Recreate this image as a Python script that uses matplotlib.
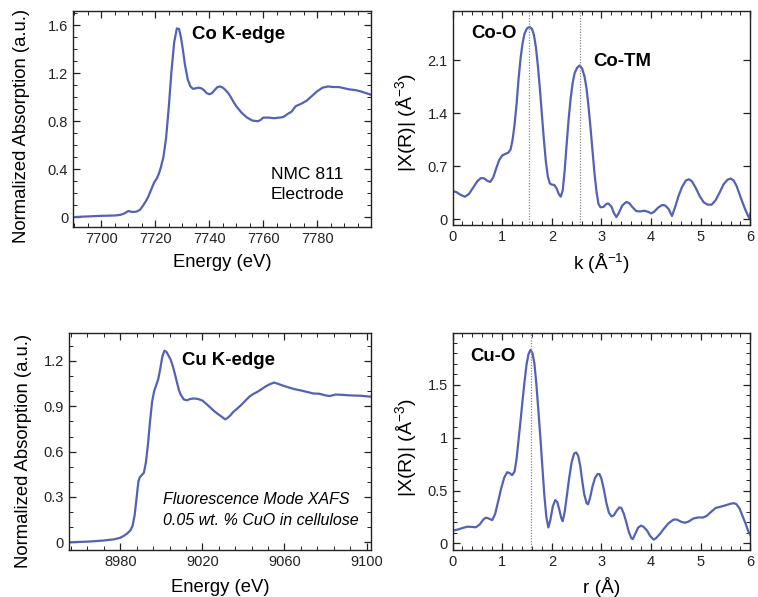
import matplotlib
matplotlib.use("Agg")
import matplotlib.pyplot as plt
from matplotlib.ticker import AutoMinorLocator, MultipleLocator, FuncFormatter, NullLocator

plt.rcParams['font.family'] = ['Liberation Sans', 'DejaVu Sans']
plt.rcParams['mathtext.fontset'] = 'custom'
plt.rcParams['mathtext.rm'] = 'Liberation Sans'
plt.rcParams['mathtext.it'] = 'Liberation Sans:italic'

LINE = '#5561b4'

# ---- Co K-edge XANES ----
co_e = [7690, 7695, 7700, 7705, 7707, 7708.5, 7710, 7711.5, 7713, 7714.3, 7715.3, 7716.3,
        7717.2, 7718.4, 7719.6, 7720.5, 7721.3, 7722, 7723, 7724, 7725, 7726, 7727, 7728,
        7728.8, 7729.5, 7730.2, 7731, 7732, 7733, 7734, 7735, 7736, 7737, 7738, 7739, 7740,
        7741, 7742, 7743, 7744, 7745, 7746, 7747, 7748, 7749, 7750, 7752, 7754, 7756, 7758,
        7759, 7760, 7762, 7764, 7766, 7767.5, 7769, 7770.5, 7772, 7774, 7776, 7778, 7780,
        7782, 7784, 7786, 7788, 7790, 7792, 7794, 7796, 7798, 7800]
co_mu = [0.0, 0.005, 0.01, 0.013, 0.018, 0.03, 0.05, 0.042, 0.045, 0.06, 0.09, 0.125,
         0.16, 0.225, 0.29, 0.32, 0.36, 0.41, 0.50, 0.66, 0.92, 1.22, 1.46, 1.575,
         1.57, 1.50, 1.40, 1.27, 1.15, 1.09, 1.07, 1.075, 1.08, 1.075, 1.06, 1.035, 1.025,
         1.035, 1.06, 1.085, 1.09, 1.08, 1.06, 1.035, 1.0, 0.96, 0.925, 0.87, 0.83, 0.805, 0.80,
         0.81, 0.83, 0.83, 0.825, 0.83, 0.835, 0.86, 0.88, 0.925, 0.945, 0.97, 1.01, 1.05,
         1.08, 1.09, 1.085, 1.085, 1.075, 1.065, 1.06, 1.05, 1.035, 1.02]

# ---- Co FT-EXAFS ----
co_k = [0, 0.08, 0.16, 0.25, 0.33, 0.42, 0.5, 0.57, 0.63, 0.7, 0.76, 0.82, 0.88, 0.94, 1.0,
        1.06, 1.12, 1.17, 1.21, 1.25, 1.29, 1.33, 1.37, 1.41, 1.45, 1.5, 1.55, 1.6, 1.64,
        1.68, 1.72, 1.76, 1.8, 1.84, 1.88, 1.92, 1.96, 2.0, 2.05, 2.1, 2.14, 2.18, 2.22, 2.26,
        2.3, 2.34, 2.38, 2.42, 2.46, 2.51, 2.56, 2.61, 2.66, 2.7, 2.74, 2.78, 2.82, 2.86, 2.9,
        2.94, 2.98, 3.04, 3.1, 3.14, 3.2, 3.25, 3.3, 3.35, 3.42, 3.5, 3.56, 3.62, 3.7, 3.78,
        3.86, 3.94, 4.0, 4.06, 4.14, 4.22, 4.28, 4.35, 4.42, 4.48, 4.55, 4.62, 4.7, 4.76,
        4.82, 4.9, 4.98, 5.06, 5.14, 5.22, 5.3, 5.38, 5.46, 5.54, 5.6, 5.66, 5.72, 5.78, 5.84,
        5.9, 5.96, 5.98, 6.0]
co_chi = [0.37, 0.355, 0.32, 0.295, 0.33, 0.42, 0.50, 0.54, 0.54, 0.505, 0.49, 0.55, 0.67,
          0.78, 0.84, 0.86, 0.875, 0.92, 1.05, 1.25, 1.52, 1.85, 2.12, 2.32, 2.45, 2.52, 2.54,
          2.515, 2.43, 2.27, 2.02, 1.72, 1.38, 1.05, 0.76, 0.56, 0.47, 0.455, 0.45, 0.40, 0.33,
          0.295, 0.38, 0.65, 1.0, 1.33, 1.6, 1.8, 1.93, 2.0, 2.03, 1.99, 1.88, 1.72, 1.48,
          1.2, 0.9, 0.6, 0.36, 0.2, 0.155, 0.16, 0.2, 0.205, 0.165, 0.08, 0.025, 0.08, 0.18,
          0.225, 0.21, 0.16, 0.105, 0.1, 0.11, 0.095, 0.075, 0.095, 0.15, 0.185, 0.18, 0.135,
          0.04, 0.15, 0.3, 0.42, 0.51, 0.525, 0.5, 0.41, 0.3, 0.22, 0.19, 0.19, 0.25, 0.35,
          0.46, 0.52, 0.535, 0.51, 0.44, 0.33, 0.22, 0.12, 0.03, 0.01, 0.075]

# ---- Cu K-edge XANES ----
cu_e = [8955, 8965, 8972, 8977, 8980, 8982, 8983.5, 8985, 8986, 8987, 8988, 8988.8, 8989.5,
        8990.5, 8991.5, 8992.5, 8993.5, 8994.5, 8995.5, 8996.5, 8997.5, 8998.5, 8999.5,
        9000.5, 9001.5, 9002.5, 9003.5, 9004.5, 9005.5, 9006.5, 9007.5, 9008.5, 9009.5, 9011,
        9012.5, 9014, 9016, 9018, 9020, 9022, 9024, 9026, 9028, 9030, 9031, 9032, 9033.5,
        9035, 9037, 9039, 9041, 9043, 9045, 9047, 9049, 9051, 9053, 9055, 9057, 9059, 9062,
        9065, 9068, 9071, 9074, 9077, 9080, 9082, 9085, 9088, 9091, 9094, 9097, 9100, 9102]
cu_mu = [0.0, 0.005, 0.012, 0.02, 0.03, 0.045, 0.06, 0.08, 0.11, 0.18, 0.30, 0.40, 0.43,
         0.445, 0.46, 0.53, 0.65, 0.80, 0.93, 1.0, 1.04, 1.08, 1.15, 1.23, 1.268, 1.26,
         1.235, 1.21, 1.17, 1.12, 1.065, 1.01, 0.975, 0.945, 0.94, 0.948, 0.952, 0.948, 0.938,
         0.915, 0.89, 0.865, 0.845, 0.825, 0.814, 0.82, 0.838, 0.862, 0.885, 0.91, 0.938,
         0.965, 0.983, 0.997, 1.015, 1.033, 1.047, 1.057, 1.048, 1.038, 1.025, 1.013, 1.005,
         0.995, 0.985, 0.983, 0.972, 0.968, 0.978, 0.976, 0.973, 0.971, 0.97, 0.966, 0.964]

# ---- Cu FT-EXAFS ----
cu_r = [0, 0.1, 0.2, 0.3, 0.4, 0.47, 0.55, 0.62, 0.67, 0.73, 0.8, 0.86, 0.92, 0.98, 1.04,
        1.1, 1.15, 1.2, 1.25, 1.29, 1.33, 1.37, 1.41, 1.45, 1.49, 1.53, 1.57, 1.61, 1.65,
        1.69, 1.73, 1.77, 1.81, 1.85, 1.89, 1.93, 1.97, 2.02, 2.07, 2.11, 2.15, 2.19, 2.22,
        2.26, 2.3, 2.35, 2.4, 2.45, 2.49, 2.53, 2.57, 2.61, 2.65, 2.7, 2.73, 2.77, 2.82, 2.87,
        2.92, 2.96, 3.0, 3.05, 3.1, 3.15, 3.2, 3.25, 3.3, 3.36, 3.4, 3.45, 3.5, 3.55, 3.6,
        3.63, 3.68, 3.74, 3.8, 3.85, 3.92, 3.98, 4.05, 4.1, 4.18, 4.26, 4.35, 4.45, 4.52, 4.6,
        4.68, 4.75, 4.85, 4.95, 5.05, 5.12, 5.2, 5.3, 5.4, 5.5, 5.6, 5.67, 5.72, 5.78, 5.84,
        5.9, 5.96, 6.0]
cu_chi = [0.12, 0.13, 0.145, 0.158, 0.155, 0.152, 0.18, 0.225, 0.243, 0.235, 0.22, 0.28,
          0.40, 0.52, 0.62, 0.673, 0.665, 0.645, 0.68, 0.80, 0.98, 1.16, 1.35, 1.53, 1.69,
          1.79, 1.83, 1.80, 1.70, 1.50, 1.25, 1.0, 0.72, 0.45, 0.25, 0.15, 0.22, 0.35, 0.41,
          0.39, 0.32, 0.24, 0.21, 0.30, 0.44, 0.62, 0.77, 0.85, 0.86, 0.83, 0.74, 0.60, 0.47,
          0.38, 0.37, 0.43, 0.54, 0.62, 0.655, 0.655, 0.61, 0.505, 0.38, 0.29, 0.255, 0.265,
          0.305, 0.34, 0.335, 0.28, 0.2, 0.11, 0.05, 0.04, 0.09, 0.15, 0.168, 0.155, 0.12,
          0.07, 0.035, 0.05, 0.09, 0.14, 0.19, 0.225, 0.225, 0.205, 0.195, 0.205, 0.235,
          0.245, 0.245, 0.26, 0.295, 0.335, 0.347, 0.36, 0.375, 0.38, 0.37, 0.33, 0.26, 0.19,
          0.11, 0.08]

co_lines = [1.55, 2.57]
cu_lines = [1.58]
cu_xticks = [8980, 9020, 9060, 9100]

fig = plt.figure(figsize=(7.58, 5.97), dpi=100)
ax1 = fig.add_axes([0.0963, 0.6198, 0.3927, 0.3618])
ax2 = fig.add_axes([0.597, 0.623, 0.393, 0.3586])
ax3 = fig.add_axes([0.091, 0.0787, 0.398, 0.3635])
ax4 = fig.add_axes([0.597, 0.0787, 0.393, 0.3635])

fmt = FuncFormatter(lambda v, p: '%g' % round(v, 6))
TICK_FS = 10.5
LABEL_FS = 13.3
BOLD_FS = 13.4

def style(ax):
    ax.tick_params(which='both', direction='in', top=True, right=True,
                   labelsize=TICK_FS, colors='#222222', labelcolor='#222222')
    ax.tick_params(which='major', length=5, width=0.9)
    ax.tick_params(which='minor', length=3, width=0.7)
    for s in ax.spines.values():
        s.set_linewidth(1.0)
        s.set_color('#222222')
    ax.yaxis.set_major_formatter(fmt)
    ax.xaxis.set_major_formatter(fmt)

# Panel 1
ax1.plot(co_e, co_mu, color=LINE, lw=1.6)
ax1.set_xlim(7689.5, 7799.8)
ax1.set_ylim(-0.083, 1.72)
ax1.xaxis.set_major_locator(MultipleLocator(20))
ax1.xaxis.set_minor_locator(AutoMinorLocator(4))
ax1.yaxis.set_major_locator(MultipleLocator(0.4))
ax1.yaxis.set_minor_locator(AutoMinorLocator(4))
style(ax1)
ax1.set_xlabel('Energy (eV)', fontsize=LABEL_FS, labelpad=6)
ax1.set_ylabel('Normalized Absorption (a.u.)', fontsize=LABEL_FS)
ax1.yaxis.set_label_coords(-0.145, 0.47)
ax1.text(0.40, 0.889, 'Co K-edge', transform=ax1.transAxes, fontsize=BOLD_FS,
         fontweight='bold', va='center', ha='left')
ax1.text(0.788, 0.197, 'NMC 811\nElectrode', transform=ax1.transAxes, fontsize=12.6,
         va='center', ha='center', linespacing=1.45)

# Panel 2
ax2.plot(co_k, co_chi, color=LINE, lw=1.6)
for xv in co_lines:
    ax2.axvline(xv, color='#888888', lw=0.9, ls=(0, (1, 1.2)))
ax2.set_xlim(0, 6)
ax2.set_ylim(-0.08, 2.75)
ax2.xaxis.set_major_locator(MultipleLocator(1))
ax2.xaxis.set_minor_locator(AutoMinorLocator(5))
ax2.yaxis.set_major_locator(MultipleLocator(0.7))
ax2.yaxis.set_minor_locator(NullLocator())
style(ax2)
ax2.set_xlabel('k (Å$^{-1}$)', fontsize=LABEL_FS + 0.5, labelpad=6)
ax2.set_ylabel('|X(R)| (Å$^{-3}$)', fontsize=LABEL_FS + 0.7)
ax2.yaxis.set_label_coords(-0.112, 0.48)
ax2.text(0.064, 0.897, 'Co-O', transform=ax2.transAxes, fontsize=BOLD_FS,
         fontweight='bold', va='center', ha='left')
ax2.text(0.471, 0.766, 'Co-TM', transform=ax2.transAxes, fontsize=BOLD_FS,
         fontweight='bold', va='center', ha='left')

# Panel 3
ax3.plot(cu_e, cu_mu, color=LINE, lw=1.6)
ax3.set_xlim(8955, 9102)
ax3.set_ylim(-0.051, 1.385)
ax3.set_xticks(cu_xticks)
ax3.xaxis.set_minor_locator(AutoMinorLocator(5))
ax3.yaxis.set_major_locator(MultipleLocator(0.3))
ax3.yaxis.set_minor_locator(AutoMinorLocator(3))
style(ax3)
ax3.set_xlabel('Energy (eV)', fontsize=LABEL_FS, labelpad=7)
ax3.set_ylabel('Normalized Absorption (a.u.)', fontsize=LABEL_FS)
ax3.yaxis.set_label_coords(-0.124, 0.456)
ax3.text(0.376, 0.875, 'Cu K-edge', transform=ax3.transAxes, fontsize=BOLD_FS,
         fontweight='bold', va='center', ha='left')
ax3.text(0.311, 0.235, 'Fluorescence Mode XAFS', transform=ax3.transAxes, fontsize=11.5,
         fontstyle='italic', va='center', ha='left')
ax3.text(0.311, 0.138, '0.05 wt. % CuO in cellulose', transform=ax3.transAxes, fontsize=11.5,
         fontstyle='italic', va='center', ha='left')

# Panel 4
ax4.plot(cu_r, cu_chi, color=LINE, lw=1.6)
for xv in cu_lines:
    ax4.axvline(xv, color='#888888', lw=0.9, ls=(0, (1, 1.2)))
ax4.set_xlim(0, 6)
ax4.set_ylim(-0.063, 1.99)
ax4.xaxis.set_major_locator(MultipleLocator(1))
ax4.xaxis.set_minor_locator(AutoMinorLocator(5))
ax4.yaxis.set_major_locator(MultipleLocator(0.5))
ax4.yaxis.set_minor_locator(AutoMinorLocator(5))
style(ax4)
ax4.set_xlabel('r (Å)', fontsize=LABEL_FS + 0.5, labelpad=6)
ax4.set_ylabel('|X(R)| (Å$^{-3}$)', fontsize=LABEL_FS + 0.7)
ax4.yaxis.set_label_coords(-0.112, 0.47)
ax4.text(0.060, 0.891, 'Cu-O', transform=ax4.transAxes, fontsize=BOLD_FS,
         fontweight='bold', va='center', ha='left')

fig.savefig('out.png', dpi=100)
